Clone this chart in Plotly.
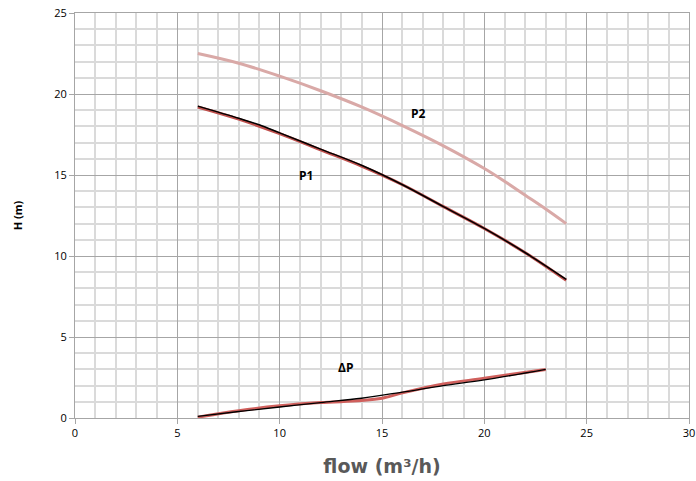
import plotly.graph_objects as go

# P2 curve (light pink)
p2_x = [6, 8, 10, 12, 14, 16, 18, 20, 21, 22, 23, 24]
p2_y = [22.5, 21.9, 21.1, 20.2, 19.2, 18.05, 16.8, 15.4, 14.6, 13.75, 12.9, 12.0]

# P1 curve (red under, black over)
p1_red_x = [6, 8, 10, 12, 14, 16, 18, 20, 22, 24]
p1_red_y = [19.2, 18.45, 17.55, 16.55, 15.55, 14.4, 13.05, 11.7, 10.2, 8.5]
p1_blk_x = [6, 8, 9, 10, 12, 14, 16, 18, 20, 22, 24]
p1_blk_y = [19.25, 18.5, 18.1, 17.6, 16.6, 15.6, 14.4, 13.05, 11.7, 10.2, 8.55]

# ΔP curve (red under, black over)
dp_red_x = [6, 8, 10, 12, 14, 15, 16, 18, 20, 23]
dp_red_y = [0.05, 0.45, 0.75, 0.95, 1.08, 1.22, 1.55, 2.1, 2.45, 3.0]
dp_blk_x = [6, 8, 10, 12, 14, 16, 18, 20, 23]
dp_blk_y = [0.1, 0.4, 0.68, 0.95, 1.22, 1.6, 2.0, 2.35, 3.0]

labels_text = ["P2", "P1", "ΔP"]
labels_x = [16.8, 11.3, 13.2]
labels_y = [18.8, 15.0, 3.1]

fig = go.Figure()
fig.add_trace(go.Scatter(x=p2_x, y=p2_y, mode="lines", line=dict(color="#D9A9A7", width=3, shape="spline"), showlegend=False))
fig.add_trace(go.Scatter(x=p1_red_x, y=p1_red_y, mode="lines", line=dict(color="#C0504D", width=3, shape="spline"), showlegend=False))
fig.add_trace(go.Scatter(x=p1_blk_x, y=p1_blk_y, mode="lines", line=dict(color="#000000", width=1.5, shape="spline"), showlegend=False))
fig.add_trace(go.Scatter(x=dp_red_x, y=dp_red_y, mode="lines", line=dict(color="#D0605D", width=3, shape="spline"), showlegend=False))
fig.add_trace(go.Scatter(x=dp_blk_x, y=dp_blk_y, mode="lines", line=dict(color="#000000", width=1.3, shape="spline"), showlegend=False))

for t, x, y in zip(labels_text, labels_x, labels_y):
    fig.add_annotation(x=x, y=y, text="<b>%s</b>" % t, showarrow=False,
                       font=dict(family="Open Sans", size=12, color="#000000"))

fig.update_layout(
    width=696, height=481,
    margin=dict(l=75, r=7, t=13, b=63),
    paper_bgcolor="white", plot_bgcolor="white",
    font=dict(family="Open Sans", size=11, color="#000000"),
    xaxis=dict(
        range=[0, 30], dtick=5, tick0=0, automargin=False, ticklabeloverflow="allow",
        showgrid=True, gridcolor="#A6A6A6", gridwidth=1,
        minor=dict(dtick=1, showgrid=True, gridcolor="#DADADA", gridwidth=1.5),
        ticks="outside", ticklen=5, tickcolor="#A6A6A6",
        zeroline=False, showline=True, linecolor="#A6A6A6", mirror=True,
        title=dict(text="<b>flow (m³/h)</b>", font=dict(family="DejaVu Sans", size=19, color="#595959"), standoff=20),
        tickfont=dict(size=11, color="#000000"),
    ),
    yaxis=dict(
        range=[0, 25], dtick=5, tick0=0, automargin=False, ticklabeloverflow="allow",
        showgrid=True, gridcolor="#A6A6A6", gridwidth=1,
        minor=dict(dtick=1, showgrid=True, gridcolor="#DADADA", gridwidth=1.5),
        ticks="outside", ticklen=5, tickcolor="#A6A6A6",
        zeroline=False, showline=True, linecolor="#A6A6A6", mirror=True,
        title=dict(text="<b>H (m)</b>", font=dict(family="Open Sans", size=11, color="#000000"), standoff=29),
        tickfont=dict(size=11, color="#000000"),
    ),
)

fig.write_html("out.html", config={"displayModeBar": False},
               post_script="document.body.style.margin='0';")
